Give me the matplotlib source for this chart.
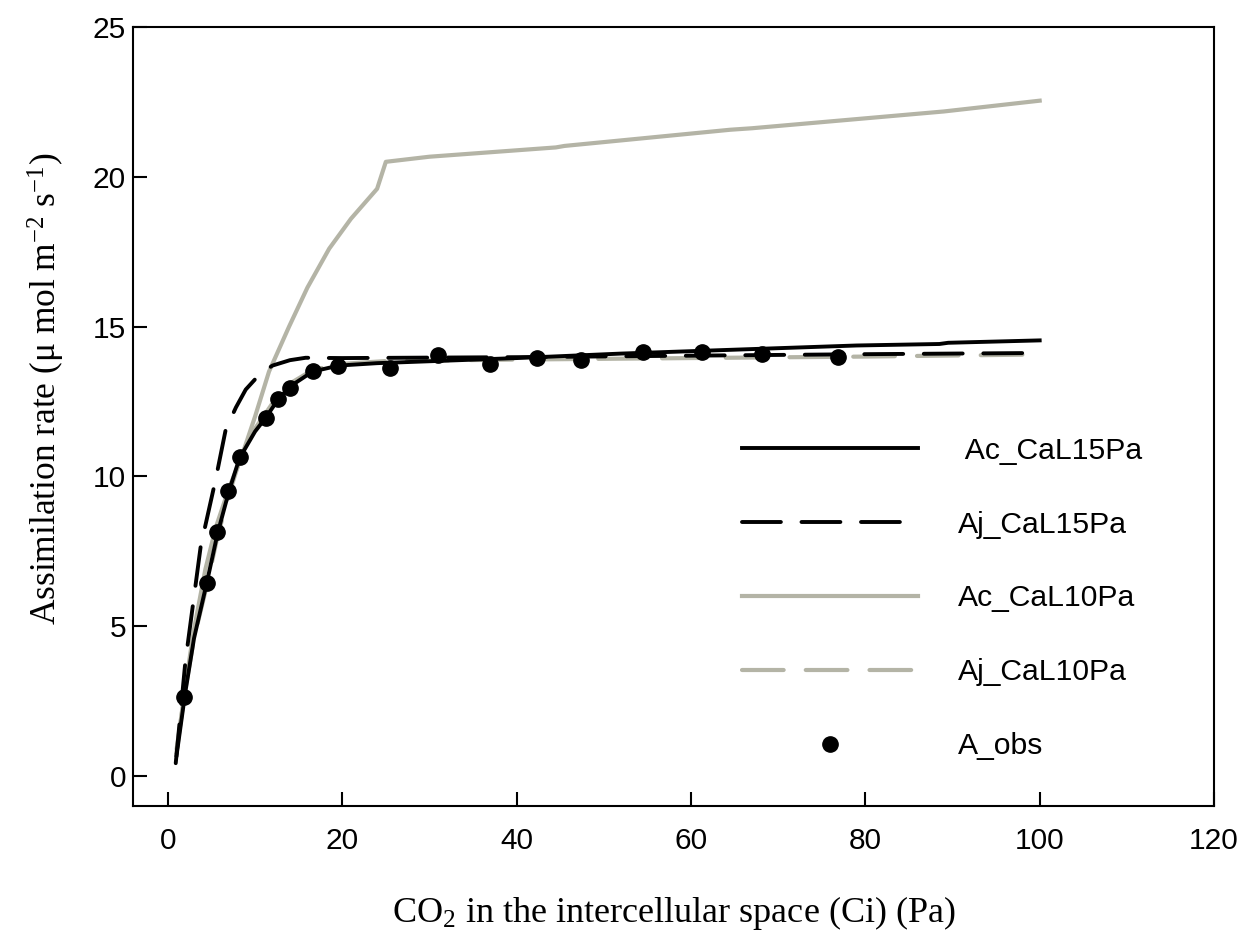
import matplotlib
matplotlib.use("Agg")
import matplotlib.pyplot as plt

plt.rcParams['font.family'] = ['Liberation Sans', 'DejaVu Sans']
plt.rcParams['mathtext.fontset'] = 'custom'
plt.rcParams['mathtext.rm'] = 'Liberation Serif'
plt.rcParams['mathtext.it'] = 'Liberation Serif:italic'

ac15_x = [1.0, 2.0, 3.0, 4.5, 5.7, 7.0, 8.2, 10.0, 11.2, 12.6, 14.0, 16.6, 19.6, 24.0, 40.0, 52.0, 79.0, 88.5, 89.5, 100.0]
ac15_y = [0.7, 2.8, 4.6, 6.5, 8.1, 9.5, 10.6, 11.5, 11.95, 12.55, 13.0, 13.5, 13.7, 13.78, 13.95, 14.1, 14.37, 14.42, 14.46, 14.54]

aj15_x = [0.9, 2.0, 3.76, 5.48, 6.63, 7.8, 8.93, 10.5, 12.0, 14.0, 15.8, 20.0, 40.0, 60.0, 80.0, 100.0]
aj15_y = [0.43, 3.8, 7.66, 9.9, 11.56, 12.3, 12.9, 13.4, 13.7, 13.88, 13.96, 13.95, 13.98, 14.03, 14.08, 14.12]

ac10_x = [1.0, 2.0, 3.0, 4.3, 5.5, 7.0, 8.5, 10.0, 11.6, 13.9, 16.0, 18.5, 21.0, 24.0, 25.0, 30.0, 44.5, 45.5, 64.5, 67.0, 89.0, 100.0]
ac10_y = [0.8, 3.0, 4.9, 6.9, 8.3, 9.6, 10.7, 12.0, 13.5, 15.0, 16.3, 17.6, 18.6, 19.6, 20.5, 20.67, 20.98, 21.03, 21.57, 21.62, 22.18, 22.54]

aj10_x = [1.0, 2.0, 3.0, 4.5, 5.7, 7.0, 8.2, 10.0, 11.2, 12.6, 14.0, 16.6, 19.6, 25.0, 40.0, 60.0, 80.0, 100.0]
aj10_y = [0.9, 2.9, 4.6, 6.4, 8.0, 9.4, 10.5, 11.6, 12.1, 12.7, 13.1, 13.55, 13.75, 13.85, 13.9, 13.95, 14.0, 14.07]

obs_x = [1.84, 4.52, 5.67, 6.9, 8.24, 11.23, 12.64, 14.02, 16.59, 19.57, 25.5, 30.96, 37.0, 42.3, 47.4, 54.5, 61.3, 68.1, 76.9]
obs_y = [2.65, 6.46, 8.13, 9.5, 10.65, 11.95, 12.57, 12.96, 13.51, 13.68, 13.62, 14.04, 13.76, 13.94, 13.9, 14.16, 14.16, 14.07, 13.99]

grey = '#b4b4a6'
dash = (0, (10, 5.3))

fig = plt.figure(figsize=(12.49, 9.3), dpi=100)
ax = fig.add_axes([0.1065, 0.1333, 0.8655, 0.8377])

ax.plot(ac15_x, ac15_y, color='black', lw=2.8, label=' Ac_CaL15Pa', zorder=4)
ax.plot(aj15_x, aj15_y, color='black', lw=2.8, ls=dash, dash_capstyle='round', label='Aj_CaL15Pa', zorder=3)
ax.plot(ac10_x, ac10_y, color=grey, lw=3, label='Ac_CaL10Pa', zorder=2)
ax.plot(aj10_x, aj10_y, color=grey, lw=3, ls=dash, dash_capstyle='round', label='Aj_CaL10Pa', zorder=2)
ax.plot(obs_x, obs_y, 'o', color='black', ms=11, label='A_obs', zorder=5)

ax.set_xlim(-4, 120)
ax.set_ylim(-1, 25)
ax.set_xticks([0, 20, 40, 60, 80, 100, 120])
ax.set_yticks([0, 5, 10, 15, 20, 25])
ax.tick_params(direction='in', length=10, width=1.5, labelsize=21.5)
ax.tick_params(axis='x', pad=15)
ax.tick_params(axis='y', pad=5)
for s in ax.spines.values():
    s.set_linewidth(1.5)

ax.set_xlabel(r'CO$_2$ in the intercellular space (Ci) (Pa)', family='Liberation Serif', fontsize=26, labelpad=28)
ax.set_ylabel(r'Assimilation rate ($\mathrm{\mu}$ mol m$^{-2}$ s$^{-1}$)', family='Liberation Serif', fontsize=25.5)
ax.yaxis.set_label_coords(-0.061, 0.536)

leg = ax.legend(loc='center left', bbox_to_anchor=(742 / 1249, (930 - 598.5) / 930), bbox_transform=fig.transFigure,
                frameon=False, fontsize=21.7, handlelength=5.85, handletextpad=1.33, labelspacing=1.52, borderpad=0,
                borderaxespad=0)

fig.savefig('out.png', dpi=100)
